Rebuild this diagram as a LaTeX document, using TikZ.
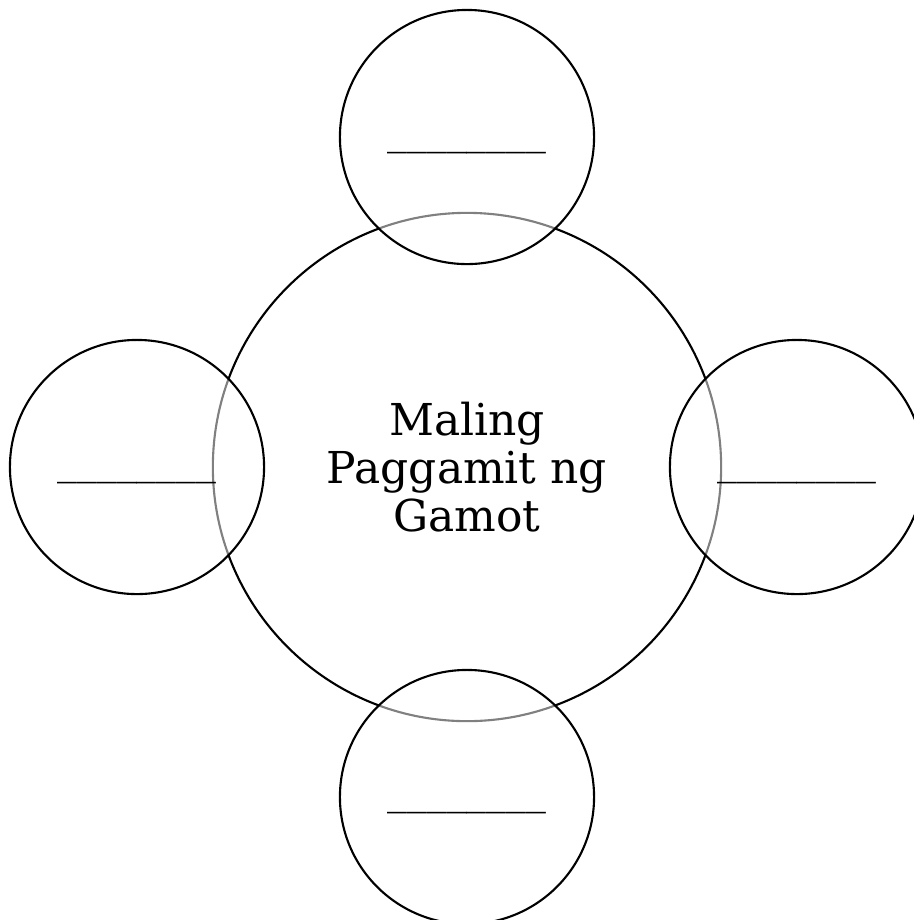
\documentclass[tikz,border=0pt]{standalone}
\usepackage{fontspec}
\setmainfont{DejaVu Serif}
\begin{document}
\begin{tikzpicture}[x=0.01cm,y=-0.01cm,
  bigc/.style={circle, draw=black, line width=0.6pt, minimum size=5.08cm, inner sep=0pt,
    align=center, font=\fontsize{12.5}{13.7}\selectfont},
  smallc/.style={circle, draw=black, line width=0.6pt, minimum size=2.54cm, inner sep=0pt,
    fill=white, fill opacity=0.5, draw opacity=1},
  blank/.style={inner sep=0pt, anchor=base, text opacity=1, font=\fontsize{11.3}{13}\selectfont}]
\useasboundingbox (0,0) rectangle (914,920);
\node[bigc] (c) at (467,467) {Maling\\Paggamit ng\\Gamot};
\node[smallc] (t) at (467,137) {};
\node[smallc] (b) at (467,797) {};
\node[smallc] (l) at (137,467) {};
\node[smallc] (r) at (797,467) {};
\node[blank] (tl) at (467,144) {\_\_\_\_\_\_\_\_};
\node[blank] (bl) at (467,804) {\_\_\_\_\_\_\_\_};
\node[blank] (ll) at (137,474) {\_\_\_\_\_\_\_\_};
\node[blank] (rl) at (797,474) {\_\_\_\_\_\_\_\_};
\end{tikzpicture}
\end{document}
